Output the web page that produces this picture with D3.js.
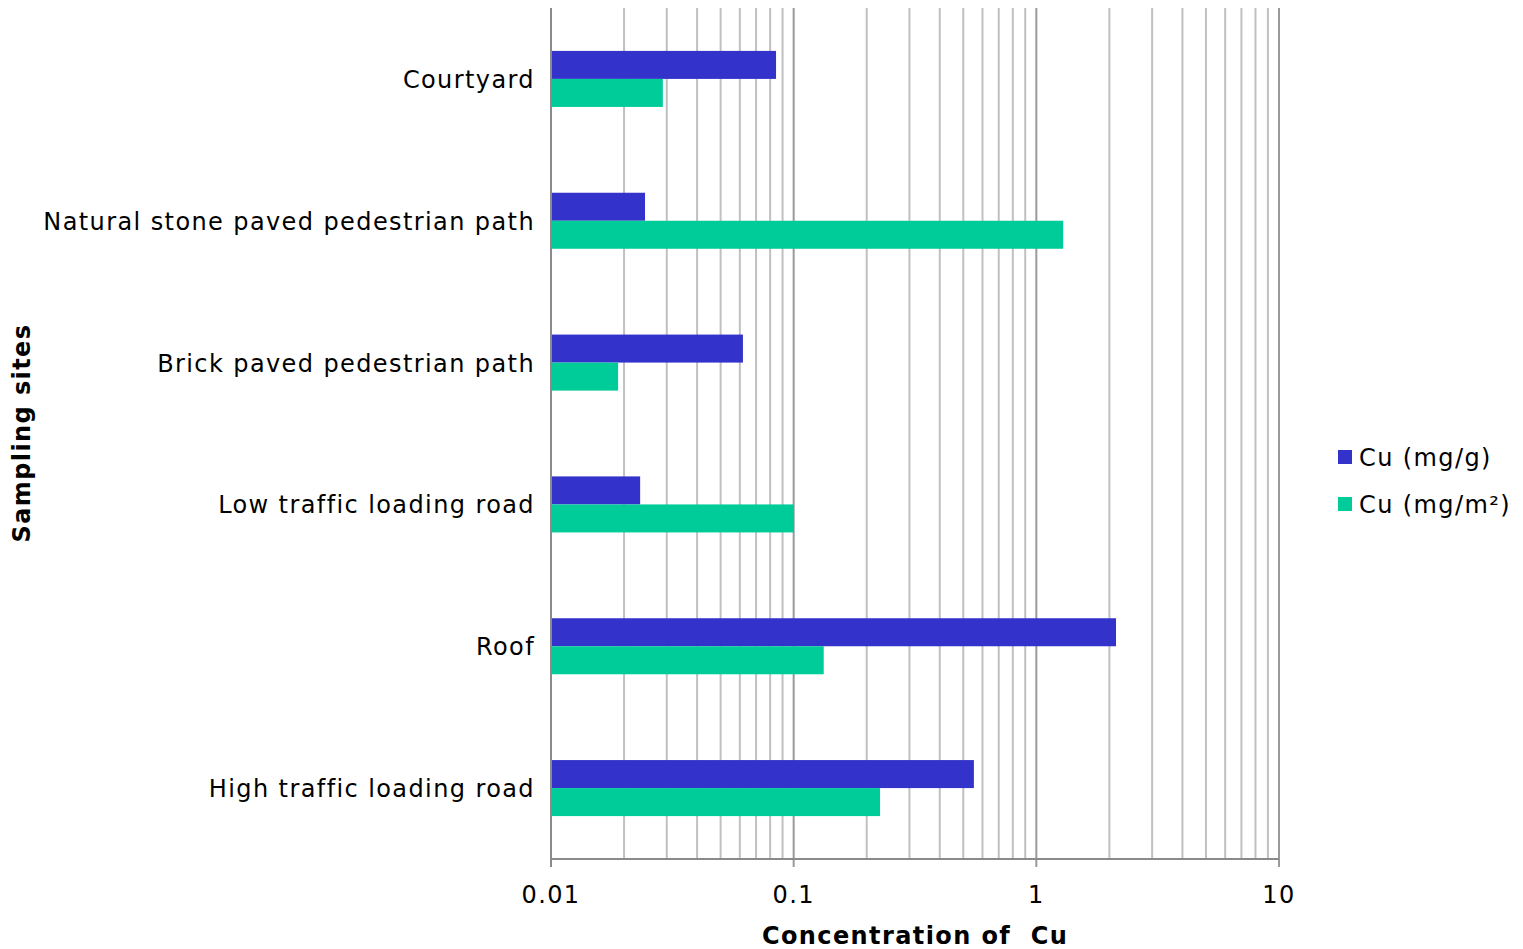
<!DOCTYPE html>
<html><head><meta charset="utf-8">
<script src="https://cdn.jsdelivr.net/npm/d3@7/dist/d3.min.js"></script>
<style>body{margin:0;background:#fff}svg{display:block}text{font-family:"DejaVu Sans",Verdana,sans-serif;letter-spacing:1.4px}</style>
</head><body>
<svg id="c" width="1523" height="949"></svg>
<script>
const categories = ["Courtyard","Natural stone paved pedestrian path","Brick paved pedestrian path","Low traffic loading road","Roof","High traffic loading road"];
const seriesNames = ["Cu (mg/g)","Cu (mg/m²)"];
const cuMgG = [0.0846,0.0244,0.0618,0.0233,2.13,0.553];
const cuMgM2 = [0.0289,1.29,0.0189,0.1003,0.133,0.227];
const colors = ["#3333CC","#00CC99"];
const xTicks = [0.01,0.1,1,10];

const svg = d3.select("#c");
const L=551, R=1279, T=8, B=859;
const x = d3.scaleLog().domain([0.01,10]).range([L,R]);
const y = d3.scaleBand().domain(categories).range([T,B]).paddingInner(0.605).paddingOuter(0.3025);
const sub = d3.scaleBand().domain(seriesNames).range([0,y.bandwidth()]);

// gridlines
const minor=[];
for(let e=-2;e<1;e++) for(let m=2;m<=9;m++) minor.push(m*Math.pow(10,e));
svg.append("g").selectAll("line").data(minor).join("line")
  .attr("x1",d=>x(d)).attr("x2",d=>x(d)).attr("y1",T).attr("y2",B)
  .attr("stroke","#c0c0c0").attr("stroke-width",2);
svg.append("g").selectAll("line").data(xTicks).join("line")
  .attr("x1",d=>x(d)).attr("x2",d=>x(d)).attr("y1",T).attr("y2",B+8)
  .attr("stroke","#9a9a9a").attr("stroke-width",2);

// bars
const data = [cuMgG,cuMgM2];
data.forEach((vals,si)=>{
  svg.append("g").selectAll("rect").data(vals).join("rect")
    .attr("x",L).attr("y",(d,i)=>y(categories[i])+sub(seriesNames[si]))
    .attr("width",d=>x(d)-L).attr("height",sub.bandwidth())
    .attr("fill",colors[si]);
});

// axes lines
svg.append("line").attr("x1",L).attr("x2",L).attr("y1",T).attr("y2",B+8).attr("stroke","#8a8a8a").attr("stroke-width",2);
svg.append("line").attr("x1",L).attr("x2",R).attr("y1",B).attr("y2",B).attr("stroke","#8a8a8a").attr("stroke-width",2);

// x tick labels
svg.append("g").selectAll("text").data(xTicks).join("text")
  .attr("x",d=>x(d)).attr("y",903).attr("text-anchor","middle")
  .attr("font-size",24).attr("fill","#000").text(d=>String(d));

// y labels
svg.append("g").selectAll("text").data(categories).join("text")
  .attr("x",535).attr("y",d=>y(d)+y.bandwidth()/2+9).attr("text-anchor","end")
  .attr("font-size",24).attr("fill","#000").text(d=>d);

// titles
svg.append("text").attr("x",915).attr("y",944).attr("text-anchor","middle")
  .attr("font-size",24).attr("font-weight","bold").style("white-space","pre").text("Concentration of  Cu");
svg.append("text").attr("transform","translate(30,433) rotate(-90)").attr("text-anchor","middle")
  .attr("font-size",24).attr("font-weight","bold").text("Sampling sites");

// legend
seriesNames.forEach((n,i)=>{
  const g=svg.append("g").attr("transform",`translate(1338,${450+i*47})`);
  g.append("rect").attr("width",14).attr("height",14).attr("fill",colors[i]);
  g.append("text").attr("x",21).attr("y",16).attr("font-size",24).text(n);
});
</script>
</body></html>
